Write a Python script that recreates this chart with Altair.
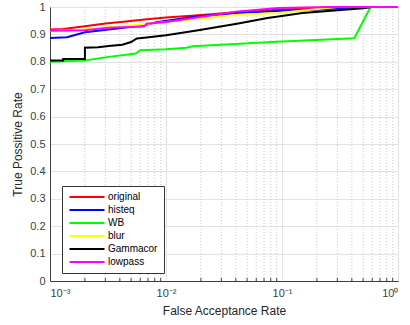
import altair as alt
import pandas as pd

series = ["original", "histeq", "WB", "blur", "Gammacor", "lowpass"]
colors = ["#ff0000", "#0000ff", "#00ff00", "#ffff00", "#000000", "#ff00ff"]

original_x = [0.001, 0.0013, 0.002, 0.003, 0.0045, 0.0065, 0.01, 0.019, 0.042, 0.093, 0.2, 0.35, 1]
original_y = [0.918, 0.92, 0.93, 0.94, 0.947, 0.954, 0.962, 0.970, 0.982, 0.99, 0.996, 1.0, 1.0]

histeq_x = [0.001, 0.0014, 0.002, 0.0032, 0.0063, 0.0085, 0.019, 0.042, 0.1, 0.2, 0.45, 1]
histeq_y = [0.887, 0.89, 0.908, 0.918, 0.932, 0.945, 0.966, 0.978, 0.986, 0.99, 1.0, 1.0]

wb_x = [0.001, 0.002, 0.0032, 0.0055, 0.006, 0.01, 0.015, 0.017, 0.09, 0.42, 0.58, 1]
wb_y = [0.80, 0.805, 0.818, 0.83, 0.842, 0.846, 0.851, 0.857, 0.873, 0.886, 1.0, 1.0]

blur_x = [0.001, 0.002, 0.0032, 0.0065, 0.01, 0.019, 0.042, 0.093, 0.3, 1]
blur_y = [0.912, 0.918, 0.926, 0.937, 0.945, 0.957, 0.972, 0.978, 1.0, 1.0]

gamma_x = [0.001, 0.0013, 0.0013, 0.002, 0.002, 0.0026, 0.0032, 0.0042, 0.005, 0.0056,
           0.0065, 0.01, 0.019, 0.042, 0.075, 0.093, 0.15, 0.5, 0.6, 1]
gamma_y = [0.805, 0.805, 0.81, 0.81, 0.851, 0.853, 0.858, 0.862, 0.872, 0.885,
           0.888, 0.897, 0.915, 0.94, 0.96, 0.965, 0.978, 0.995, 1.0, 1.0]

lowpass_x = [0.001, 0.002, 0.0032, 0.0065, 0.0068, 0.01, 0.019, 0.042, 0.093, 0.25, 1]
lowpass_y = [0.913, 0.915, 0.924, 0.929, 0.939, 0.945, 0.963, 0.984, 0.996, 1.0, 1.0]

major_x = [0.001, 0.01, 0.1, 1]
minor_x = [m * 10 ** e for e in (-3, -2, -1) for m in range(2, 10)]
y_ticks = [round(i * 0.1, 1) for i in range(11)]

all_series = [
    ("original", original_x, original_y),
    ("histeq", histeq_x, histeq_y),
    ("WB", wb_x, wb_y),
    ("blur", blur_x, blur_y),
    ("Gammacor", gamma_x, gamma_y),
    ("lowpass", lowpass_x, lowpass_y),
]
rows = []
for name, xs, ys in all_series:
    for i, (x, y) in enumerate(zip(xs, ys)):
        rows.append({"series": name, "far": x, "tpr": y, "idx": i})
df = pd.DataFrame(rows)

W, H = 348, 274
FONT = "Liberation Sans"
xscale = alt.Scale(type="log", domain=[0.001, 1])
yscale = alt.Scale(domain=[0, 1])

xlabel = ("datum.value == 0.001 ? '10⁻³' : datum.value == 0.01 ? '10⁻²' : "
          "datum.value == 0.1 ? '10⁻¹' : '10⁰'")
xaxis = alt.Axis(values=major_x, labelExpr=xlabel, title="False Acceptance Rate",
                 grid=True, ticks=False, labelPadding=6)
yaxis = alt.Axis(values=y_ticks, format="~g", title="True Possitive Rate",
                 grid=True, ticks=False, labelPadding=5)

minor_df = pd.DataFrame({"v": minor_x})

minor_grid = alt.Chart(minor_df).mark_rule(color="#c8c8c8", strokeDash=[1, 2], strokeWidth=1).encode(
    x=alt.X("v:Q", scale=xscale, axis=xaxis)
)
minor_ticks = alt.Chart(minor_df).mark_rule(color="#404040", strokeWidth=1).encode(
    x=alt.X("v:Q", scale=xscale, axis=xaxis), y=alt.value(H), y2=alt.value(H - 3)
)

legend = alt.Legend(title=None, orient="none", legendX=12, legendY=179,
                    symbolType="M-1,0H9", symbolSize=49,
                    symbolStrokeWidth=2, labelFontSize=10,
                    labelFont=FONT, labelColor="#000",
                    strokeColor="#333", fillColor="white",
                    padding=6, rowPadding=3, labelOffset=30)

layers = [minor_grid, minor_ticks]
for name, xs, ys in all_series:
    layers.append(
        alt.Chart(df).transform_filter(alt.datum.series == name).mark_line(strokeWidth=2).encode(
            x=alt.X("far:Q", scale=xscale, axis=xaxis),
            y=alt.Y("tpr:Q", scale=yscale, axis=yaxis),
            color=alt.Color("series:N", scale=alt.Scale(domain=series, range=colors), legend=legend),
            order="idx:Q",
        )
    )

chart = alt.layer(*layers).properties(
    width=W, height=H,
    autosize=alt.AutoSizeParams(type="none"),
    padding={"left": 50, "top": 7, "right": 12, "bottom": 44},
).configure_view(stroke="#404040", strokeWidth=1).configure_axis(
    gridColor="#e3e3e3", gridOpacity=1, domainColor="#404040",
    labelFont=FONT, labelFontSize=11, labelColor="#404040",
    titleFont=FONT, titleFontSize=12, titleColor="#262626", titleFontWeight="normal",
).configure_axisX(titlePadding=7).configure_axisY(titlePadding=5)

chart.save("out.html", embed_options={"renderer": "svg", "actions": False})
